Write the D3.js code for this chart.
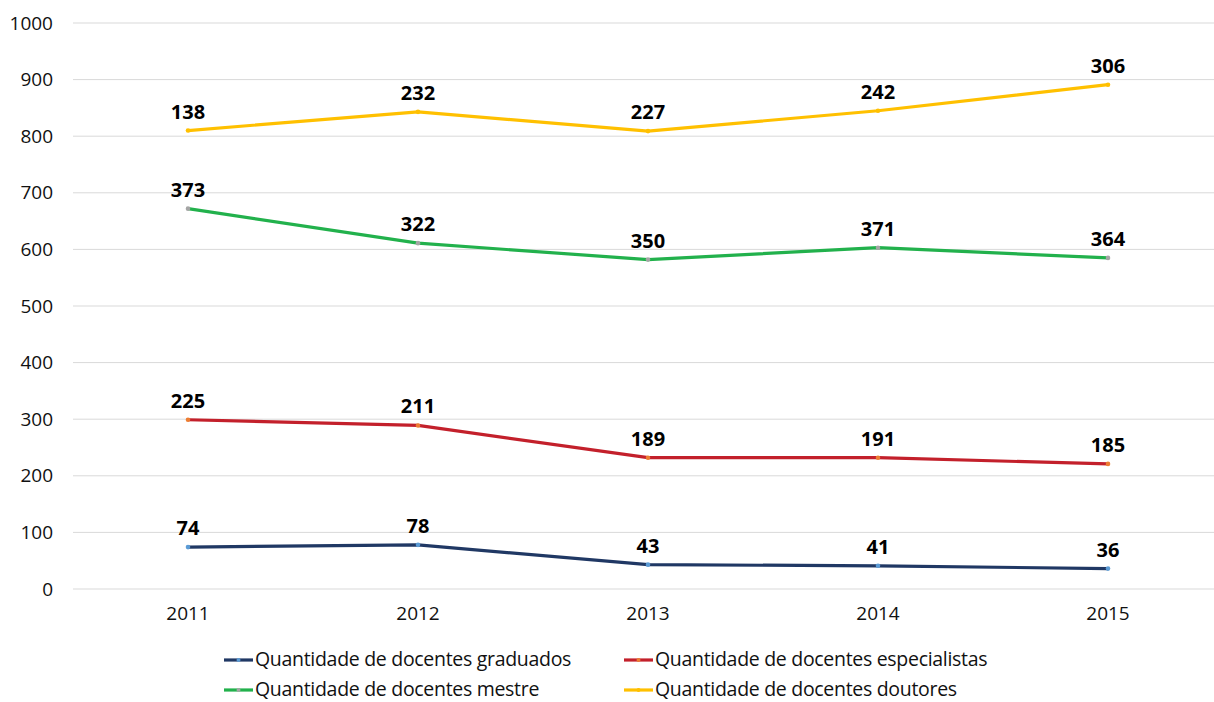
<!DOCTYPE html>
<html>
<head>
<meta charset="utf-8">
<script src="https://cdn.jsdelivr.net/npm/d3@7"></script>
<style>
	body { margin: 0; background: #fff; overflow: hidden; }
	text { font-family: "Open Sans", sans-serif; }
</style>
</head>
<body>
<script>

// years on the x axis
var years = ["2011", "2012", "2013", "2014", "2015"];

// values per series (the chart stacks them)
var graduados = [74, 78, 43, 41, 36];
var especialistas = [225, 211, 189, 191, 185];
var mestre = [373, 322, 350, 371, 364];
var doutores = [138, 232, 227, 242, 306];

var seriesNames = [
	"Quantidade de docentes graduados",
	"Quantidade de docentes especialistas",
	"Quantidade de docentes mestre",
	"Quantidade de docentes doutores"
];
var lineColors = ["#203864", "#C3202B", "#22B14C", "#FFC000"];
var markColors = ["#5B9BD5", "#ED7D31", "#A5A5A5", "#FFC000"];

var yTicks = [0, 100, 200, 300, 400, 500, 600, 700, 800, 900, 1000];

var width = 1214, height = 702;

var svg = d3.select("body")
	.append("svg")
	.attr("width", width)
	.attr("height", height);

var xScale = d3.scaleBand()
	.domain(years)
	.range([73, 1223]);

var yScale = d3.scaleLinear()
	.domain([0, 1000])
	.range([589, 23]);

// gridlines
svg.append("g")
	.selectAll("line")
	.data(yTicks)
	.enter()
	.append("line")
	.attr("x1", 73)
	.attr("x2", 1214)
	.attr("y1", function(d){ return yScale(d); })
	.attr("y2", function(d){ return yScale(d); })
	.style("stroke", "#d9d9d9")
	.style("stroke-width", 1);

// y axis labels
var yAxis = svg.append("g")
	.attr("transform", "translate(53,0)")
	.call(d3.axisLeft(yScale).tickValues(yTicks).tickFormat(d3.format("d")).tickSize(0).tickPadding(0));
yAxis.select(".domain").remove();
yAxis.selectAll("text")
	.style("font-size", "19px")
	.style("fill", "#111")
	.style("font-family", "'Open Sans', sans-serif");

// x axis labels
var xAxis = svg.append("g")
	.attr("transform", "translate(0,589)")
	.call(d3.axisBottom(xScale).tickSize(0).tickPadding(18));
xAxis.select(".domain").remove();
xAxis.selectAll("text")
	.style("font-size", "19px")
	.style("fill", "#111")
	.style("font-family", "'Open Sans', sans-serif");

// stack the series
var raw = [graduados, especialistas, mestre, doutores];
var stacked = [];
var running = years.map(function(){ return 0; });
raw.forEach(function(values, s){
	var pts = [];
	values.forEach(function(v, i){
		running[i] += v;
		pts.push({year: years[i], value: v, total: running[i]});
	});
	stacked.push(pts);
});

var line = d3.line()
	.x(function(d){ return xScale(d.year) + xScale.bandwidth() / 2; })
	.y(function(d){ return yScale(d.total); });

stacked.forEach(function(pts, s){
	var g = svg.append("g");

	g.append("path")
		.datum(pts)
		.attr("d", line)
		.style("fill", "none")
		.style("stroke", lineColors[s])
		.style("stroke-width", 3.2)
		.style("stroke-linejoin", "round");

	g.selectAll("circle")
		.data(pts)
		.enter()
		.append("circle")
		.attr("cx", function(d){ return xScale(d.year) + xScale.bandwidth() / 2; })
		.attr("cy", function(d){ return yScale(d.total); })
		.attr("r", 2.3)
		.style("fill", markColors[s]);

	g.selectAll("text")
		.data(pts)
		.enter()
		.append("text")
		.attr("x", function(d){ return xScale(d.year) + xScale.bandwidth() / 2; })
		.attr("y", function(d){ return yScale(d.total) - 12; })
		.style("text-anchor", "middle")
		.style("font-weight", "bold")
		.style("font-size", "20px")
		.style("fill", "#000")
		.text(function(d){ return d.value; });
});

// legend
var legendPos = [[224, 660], [624, 660], [224, 690], [624, 690]];
seriesNames.forEach(function(name, s){
	var lg = svg.append("g")
		.attr("transform", "translate(" + legendPos[s][0] + "," + legendPos[s][1] + ")");
	lg.append("line")
		.attr("x1", 0).attr("x2", 29)
		.attr("y1", 0).attr("y2", 0)
		.style("stroke", lineColors[s])
		.style("stroke-width", 3.2);
	lg.append("circle")
		.attr("cx", 14.5).attr("cy", 0).attr("r", 2)
		.style("fill", markColors[s]);
	lg.append("text")
		.attr("x", 31)
		.attr("y", 6)
		.style("font-size", "19.5px")
		.style("fill", "#111")
		.style("letter-spacing", "-0.3px")
		.text(name);
});

</script>
</body>
</html>
